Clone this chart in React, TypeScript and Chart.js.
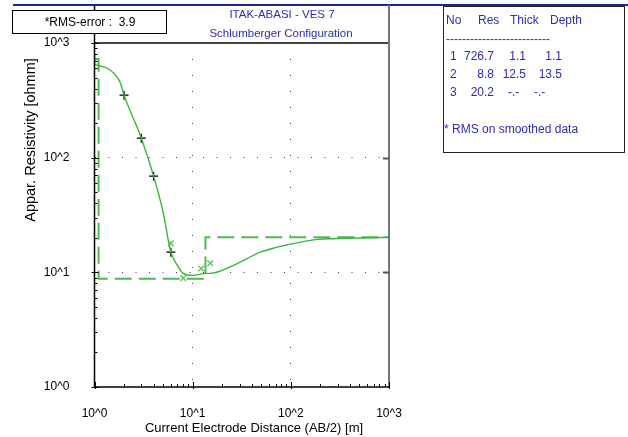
import React, { useEffect, useRef } from "react";
import { Chart, registerables } from "chart.js";
Chart.register(...registerables);

// Field data (AB/2 in m, apparent resistivity in ohm-m)
const fieldX = [1, 2, 3, 4, 6];
const fieldRho = [720, 351, 148, 69, 15];
// Smoothed data points
const smoothX = [6, 8, 12.2, 15.1];
const smoothRho = [17.9, 8.9, 10.8, 12.0];
// Calculated model curve
const curveX = [1, 1.44, 1.82, 2, 3, 4, 5, 6, 7, 8, 10, 13.7, 15, 26, 49, 99, 186, 298, 1000];
const curveRho = [650, 581, 456, 351, 148, 69, 33.4, 15, 11.5, 9.8, 9.4, 9.8, 9.8, 11.5, 15, 17.6, 19.4, 19.7, 20.2];
// Layer model
const layerNo = ["1", "2", "3"];
const layerRes = [726.7, 8.8, 20.2];
const layerThick = ["1.1", "12.5", "-.-"];
const layerDepthLabel = ["1.1", "13.5", "-.-"];
const layerDepth = [1.1, 13.5];
// Axis ticks
const decadeLabels = ["10^0", "10^1", "10^2", "10^3"];

const titleLines = ["ITAK-ABASI - VES 7", "Schlumberger Configuration"];
const rmsText = "*RMS-error :  3.9";
const xTitle = "Current Electrode Distance (AB/2) [m]";
const yTitle = "Appar. Resistivity [ohmm]";

const FONT = "'Liberation Sans', Arial, sans-serif";
const BLUE = "#2c2cb8";

function buildModel() {
  const pts: { x: number; y: number }[] = [];
  let prev = 1;
  for (let i = 0; i < layerRes.length; i++) {
    const next = i < layerDepth.length ? layerDepth[i] : 1000;
    pts.push({ x: prev, y: layerRes[i] });
    pts.push({ x: next, y: layerRes[i] });
    prev = next;
  }
  return pts;
}

function decadeLabel(v: number) {
  const l = Math.log10(v);
  const r = Math.round(l);
  if (Math.abs(l - r) < 1e-9 && r >= 0 && r < decadeLabels.length) return decadeLabels[r];
  return "";
}

const decorPlugin = {
  id: "decor",
  beforeDraw(chart: any) {
    const { ctx } = chart;
    ctx.save();
    ctx.fillStyle = "#fff";
    ctx.fillRect(0, 0, chart.width, chart.height);
    ctx.restore();
  },
  afterDraw(chart: any) {
    const { ctx, chartArea } = chart;
    const xs = chart.scales.x;
    const ys = chart.scales.y;
    const L = chartArea.left, R = chartArea.right, T = chartArea.top, B = chartArea.bottom;
    ctx.save();
    // top blue line
    ctx.strokeStyle = "#1a2a9a";
    ctx.lineWidth = 2;
    ctx.beginPath();
    ctx.moveTo(13, 5);
    ctx.lineTo(628, 5);
    ctx.stroke();
    // title separator line
    ctx.strokeStyle = "#444";
    ctx.lineWidth = 2;
    ctx.beginPath();
    ctx.moveTo(L, T);
    ctx.lineTo(R, T);
    ctx.stroke();
    // right border
    ctx.strokeStyle = "#777";
    ctx.lineWidth = 2;
    ctx.beginPath();
    ctx.moveTo(R, 5);
    ctx.lineTo(R, B);
    ctx.stroke();
    // left + bottom axis
    ctx.strokeStyle = "#000";
    ctx.lineWidth = 1.5;
    ctx.beginPath();
    ctx.moveTo(L, 5);
    ctx.lineTo(L, B);
    ctx.lineTo(R, B);
    ctx.stroke();
    // ticks
    ctx.lineWidth = 1;
    ctx.strokeStyle = "#000";
    for (let d = 1; d <= 1000; d *= 10) {
      for (let m = 1; m <= 9; m++) {
        const v = d * m;
        if (v > 1000) break;
        const major = m === 1;
        const py = Math.round(ys.getPixelForValue(v)) + 0.5;
        const px = Math.round(xs.getPixelForValue(v)) + 0.5;
        ctx.beginPath();
        if (major) {
          ctx.moveTo(L - 3, py); ctx.lineTo(L + 4, py);
          ctx.moveTo(px, B + 2); ctx.lineTo(px, B - 5);
        } else {
          ctx.moveTo(L, py); ctx.lineTo(L + 3, py);
          ctx.moveTo(px, B); ctx.lineTo(px, B - 3);
        }
        ctx.stroke();
        if (major && v > 1 && v < 1000) {
          ctx.save();
          ctx.strokeStyle = "#555";
          ctx.lineWidth = 2;
          ctx.beginPath();
          ctx.moveTo(R - 6, py); ctx.lineTo(R, py);
          ctx.stroke();
          ctx.restore();
        }
      }
    }
    // title
    ctx.fillStyle = BLUE;
    ctx.font = `11.5px ${FONT}`;
    ctx.textAlign = "center";
    ctx.textBaseline = "middle";
    ctx.fillText(titleLines[0], 282, 15);
    ctx.fillText(titleLines[1], 281, 34);
    // RMS box
    ctx.fillStyle = "#fff";
    ctx.fillRect(12.5, 10.5, 154, 23);
    ctx.strokeStyle = "#000";
    ctx.lineWidth = 1;
    ctx.strokeRect(12.5, 10.5, 154, 23);
    ctx.fillStyle = "#000";
    ctx.font = `12px ${FONT}`;
    ctx.fillText(rmsText, 90, 22.5);
    // legend box
    ctx.fillStyle = "#fff";
    ctx.fillRect(443.5, 6.5, 181, 146);
    ctx.strokeStyle = "#222";
    ctx.strokeRect(443.5, 6.5, 181, 146);
    ctx.fillStyle = BLUE;
    ctx.font = `12px ${FONT}`;
    ctx.textAlign = "left";
    ctx.fillText("No", 446, 21);
    ctx.fillText("Res", 478, 21);
    ctx.fillText("Thick", 510, 21);
    ctx.fillText("Depth", 550, 21);
    ctx.fillText("-".repeat(26), 446, 40);
    const rowsY = [57, 75, 93];
    for (let i = 0; i < layerNo.length; i++) {
      const y = rowsY[i];
      ctx.textAlign = "left";
      ctx.fillText(layerNo[i], 450, y);
      ctx.textAlign = "right";
      ctx.fillText(layerRes[i].toFixed(1), 494, y);
      const th = layerThick[i];
      const dp = layerDepthLabel[i];
      if (th === "-.-") {
        ctx.textAlign = "left";
        ctx.fillText(th, 508, y);
        ctx.fillText(dp, 534, y);
      } else {
        ctx.fillText(th, 526, y);
        ctx.fillText(dp, 562, y);
      }
    }
    ctx.textAlign = "left";
    ctx.fillText("* RMS on smoothed data", 444, 130);
    // axis titles
    ctx.fillStyle = "#000";
    ctx.textAlign = "center";
    ctx.font = `13px ${FONT}`;
    ctx.fillText(xTitle, 254, 428);
    ctx.save();
    ctx.translate(31, 140);
    ctx.rotate(-Math.PI / 2);
    ctx.font = `14.5px ${FONT}`;
    ctx.fillText(yTitle, 0, 0);
    ctx.restore();
    ctx.restore();
  },
};

export default function App() {
  const ref = useRef<HTMLCanvasElement>(null);
  useEffect(() => {
    document.body.style.margin = "0";
    const canvas = ref.current!;
    const gridColor = (c: any) => {
      const v = c.tick ? c.tick.value : 0;
      return v === 10 || v === 100 ? "#444" : "rgba(0,0,0,0)";
    };
    const chart = new Chart(canvas, {
      type: "scatter",
      data: {
        datasets: [
          {
            label: "model curve",
            data: curveX.map((x, i) => ({ x, y: curveRho[i] })),
            showLine: true,
            borderColor: "#3cb43c",
            borderWidth: 1.4,
            pointRadius: 0,
            cubicInterpolationMode: "monotone",
          },
          {
            label: "layers",
            data: buildModel(),
            showLine: true,
            borderColor: "#4cbc4c",
            borderWidth: 2,
            borderDash: [17, 7],
            pointRadius: 0,
          },
          {
            label: "smoothed",
            data: smoothX.map((x, i) => ({ x, y: smoothRho[i] })),
            showLine: false,
            pointStyle: "crossRot",
            pointRadius: 4,
            borderColor: "#5cc05c",
            borderWidth: 1.3,
          },
          {
            label: "field",
            data: fieldX.map((x, i) => ({ x, y: fieldRho[i] })),
            showLine: false,
            pointStyle: "cross",
            pointRadius: 4.5,
            borderColor: "#000",
            borderWidth: 1.3,
          },
        ],
      },
      options: {
        animation: false,
        responsive: false,
        events: [],
        layout: { padding: { top: 43, right: 239, left: 0, bottom: 0 } },
        plugins: { legend: { display: false }, tooltip: { enabled: false } },
        scales: {
          x: {
            type: "logarithmic",
            min: 1,
            max: 1000,
            position: "bottom",
            afterFit: (s: any) => { s.height = 50; },
            grid: { color: gridColor, lineWidth: 1, drawTicks: false },
            border: { display: false, dash: [1, 15] },
            ticks: {
              autoSkip: false,
              maxRotation: 0,
              padding: 19,
              color: "#000",
              font: { family: FONT, size: 12 },
              callback: (v: any) => decadeLabel(Number(v)),
            },
          },
          y: {
            type: "logarithmic",
            min: 1,
            max: 1000,
            position: "left",
            afterFit: (s: any) => { s.width = 94.5; },
            grid: { color: gridColor, lineWidth: 1, drawTicks: false },
            border: { display: false, dash: [1, 12.5] },
            ticks: {
              autoSkip: false,
              padding: 25,
              color: "#000",
              font: { family: FONT, size: 12 },
              callback: (v: any) => decadeLabel(Number(v)),
            },
          },
        },
      },
      plugins: [decorPlugin],
    } as any);
    return () => chart.destroy();
  }, []);
  return (
    <div style={{ width: 628, height: 437 }}>
      <canvas ref={ref} width={628} height={437} style={{ display: "block" }} />
    </div>
  );
}
